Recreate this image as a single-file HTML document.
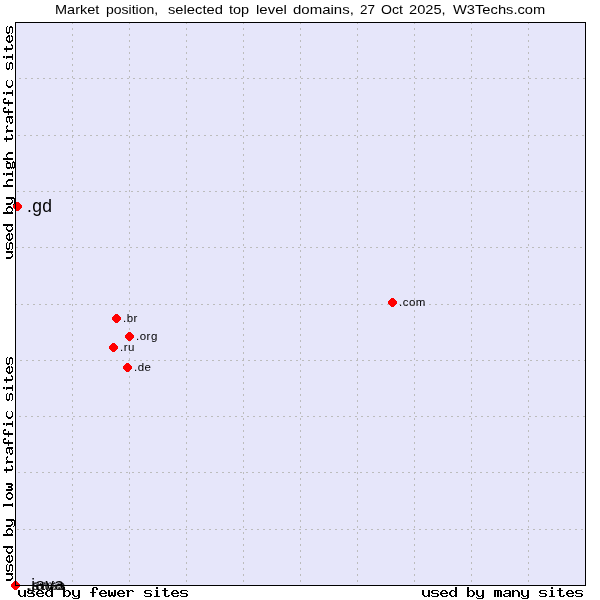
<!DOCTYPE html>
<html><head><meta charset="utf-8"><title>Market position</title>
<style>
html,body{margin:0;padding:0;background:#fff;}
.title,.lb{will-change:transform;}
body{width:600px;height:600px;position:relative;overflow:hidden;font-family:"Liberation Sans",sans-serif;color:#000;}
.title{position:absolute;top:2px;font-size:13px;line-height:15px;white-space:nowrap;color:#000;transform-origin:0 0;}
.lb{position:absolute;white-space:nowrap;color:#000;}
</style></head><body>
<svg width="600" height="600" viewBox="0 0 600 600" style="position:absolute;left:0;top:0" shape-rendering="crispEdges"><rect x="16" y="23" width="569" height="562" fill="#e6e6fa"/><line x1="72.5" y1="23" x2="72.5" y2="585" stroke="#bcbcbc" stroke-width="1" stroke-dasharray="2 4" stroke-dashoffset="1"/><line x1="129.5" y1="23" x2="129.5" y2="585" stroke="#bcbcbc" stroke-width="1" stroke-dasharray="2 4" stroke-dashoffset="1"/><line x1="186.5" y1="23" x2="186.5" y2="585" stroke="#bcbcbc" stroke-width="1" stroke-dasharray="2 4" stroke-dashoffset="1"/><line x1="243.5" y1="23" x2="243.5" y2="585" stroke="#bcbcbc" stroke-width="1" stroke-dasharray="2 4" stroke-dashoffset="1"/><line x1="300.5" y1="23" x2="300.5" y2="585" stroke="#bcbcbc" stroke-width="1" stroke-dasharray="2 4" stroke-dashoffset="1"/><line x1="357.5" y1="23" x2="357.5" y2="585" stroke="#bcbcbc" stroke-width="1" stroke-dasharray="2 4" stroke-dashoffset="1"/><line x1="414.5" y1="23" x2="414.5" y2="585" stroke="#bcbcbc" stroke-width="1" stroke-dasharray="2 4" stroke-dashoffset="1"/><line x1="471.5" y1="23" x2="471.5" y2="585" stroke="#bcbcbc" stroke-width="1" stroke-dasharray="2 4" stroke-dashoffset="1"/><line x1="528.5" y1="23" x2="528.5" y2="585" stroke="#bcbcbc" stroke-width="1" stroke-dasharray="2 4" stroke-dashoffset="1"/><line x1="16" y1="78.5" x2="585" y2="78.5" stroke="#bcbcbc" stroke-width="1" stroke-dasharray="2 4" stroke-dashoffset="3"/><line x1="16" y1="135.5" x2="585" y2="135.5" stroke="#bcbcbc" stroke-width="1" stroke-dasharray="2 4" stroke-dashoffset="4"/><line x1="16" y1="191.5" x2="585" y2="191.5" stroke="#bcbcbc" stroke-width="1" stroke-dasharray="2 4" stroke-dashoffset="5"/><line x1="16" y1="247.5" x2="585" y2="247.5" stroke="#bcbcbc" stroke-width="1" stroke-dasharray="2 4" stroke-dashoffset="0"/><line x1="16" y1="304.5" x2="585" y2="304.5" stroke="#bcbcbc" stroke-width="1" stroke-dasharray="2 4" stroke-dashoffset="1"/><line x1="16" y1="360.5" x2="585" y2="360.5" stroke="#bcbcbc" stroke-width="1" stroke-dasharray="2 4" stroke-dashoffset="2"/><line x1="16" y1="416.5" x2="585" y2="416.5" stroke="#bcbcbc" stroke-width="1" stroke-dasharray="2 4" stroke-dashoffset="3"/><line x1="16" y1="472.5" x2="585" y2="472.5" stroke="#bcbcbc" stroke-width="1" stroke-dasharray="2 4" stroke-dashoffset="4"/><line x1="16" y1="529.5" x2="585" y2="529.5" stroke="#bcbcbc" stroke-width="1" stroke-dasharray="2 4" stroke-dashoffset="5"/></svg>
<div class="title" style="left:54.88px;transform:scaleX(1.1154)">Market</div><div class="title" style="left:106.25px;transform:scaleX(1.0781)">position,</div><div class="title" style="left:168.3px;transform:scaleX(1.1333)">selected</div><div class="title" style="left:229.3px;transform:scaleX(1.1111)">top</div><div class="title" style="left:256.0px;transform:scaleX(1.1538)">level</div><div class="title" style="left:292.5px;transform:scaleX(1.1538)">domains,</div><div class="title" style="left:360.0px;transform:scaleX(1.0357)">27</div><div class="title" style="left:381.3px;transform:scaleX(1.085)">Oct</div><div class="title" style="left:409.0px;transform:scaleX(1.125)">2025,</div><div class="title" style="left:452.7px;transform:scaleX(1.1296)">W3Techs.com</div>
<svg width="600" height="600" viewBox="0 0 600 600" style="position:absolute;left:0;top:0" shape-rendering="crispEdges"><path fill="#ff0000" d="M16 202h3v1h-3zM15 203h5v1h-5zM14 204h7v1h-7zM13 205h9v1h-9zM13 206h9v1h-9zM13 207h9v1h-9zM14 208h7v1h-7zM15 209h5v1h-5zM16 210h3v1h-3z"/><path fill="#ff0000" d="M391 298h3v1h-3zM390 299h5v1h-5zM389 300h7v1h-7zM388 301h9v1h-9zM388 302h9v1h-9zM388 303h9v1h-9zM389 304h7v1h-7zM390 305h5v1h-5zM391 306h3v1h-3z"/><path fill="#ff0000" d="M115 314h3v1h-3zM114 315h5v1h-5zM113 316h7v1h-7zM112 317h9v1h-9zM112 318h9v1h-9zM112 319h9v1h-9zM113 320h7v1h-7zM114 321h5v1h-5zM115 322h3v1h-3z"/><path fill="#ff0000" d="M128 332h3v1h-3zM127 333h5v1h-5zM126 334h7v1h-7zM125 335h9v1h-9zM125 336h9v1h-9zM125 337h9v1h-9zM126 338h7v1h-7zM127 339h5v1h-5zM128 340h3v1h-3z"/><path fill="#ff0000" d="M112 343h3v1h-3zM111 344h5v1h-5zM110 345h7v1h-7zM109 346h9v1h-9zM109 347h9v1h-9zM109 348h9v1h-9zM110 349h7v1h-7zM111 350h5v1h-5zM112 351h3v1h-3z"/><path fill="#ff0000" d="M126 363h3v1h-3zM125 364h5v1h-5zM124 365h7v1h-7zM123 366h9v1h-9zM123 367h9v1h-9zM123 368h9v1h-9zM124 369h7v1h-7zM125 370h5v1h-5zM126 371h3v1h-3z"/><path fill="#ff0000" d="M14 581h3v1h-3zM13 582h5v1h-5zM12 583h7v1h-7zM11 584h9v1h-9zM11 585h9v1h-9zM11 586h9v1h-9zM12 587h7v1h-7zM13 588h5v1h-5zM14 589h3v1h-3z"/></svg>
<svg width="600" height="600" viewBox="0 0 600 600" style="position:absolute;left:0;top:0" shape-rendering="crispEdges"><rect x="15.5" y="22.5" width="570" height="563" fill="none" stroke="#000" stroke-width="1"/><path fill="#000" d="M51 587h2v1h-2zM63 587h2v1h-2zM93 587h4v1h-4zM156 587h2v1h-2zM51 588h2v1h-2zM63 588h2v1h-2zM92 588h2v1h-2zM96 588h2v1h-2zM156 588h2v1h-2zM164 588h2v1h-2zM51 589h2v1h-2zM63 589h2v1h-2zM92 589h2v1h-2zM96 589h2v1h-2zM164 589h2v1h-2zM18 590h2v1h-2zM24 590h2v1h-2zM28 590h6v1h-6zM38 590h4v1h-4zM47 590h3v1h-3zM51 590h2v1h-2zM63 590h2v1h-2zM66 590h3v1h-3zM72 590h2v1h-2zM78 590h2v1h-2zM92 590h2v1h-2zM101 590h4v1h-4zM108 590h2v1h-2zM114 590h2v1h-2zM119 590h4v1h-4zM126 590h3v1h-3zM130 590h3v1h-3zM145 590h6v1h-6zM155 590h3v1h-3zM162 590h6v1h-6zM173 590h4v1h-4zM181 590h6v1h-6zM18 591h2v1h-2zM24 591h2v1h-2zM27 591h2v1h-2zM34 591h1v1h-1zM37 591h2v1h-2zM41 591h2v1h-2zM46 591h2v1h-2zM50 591h3v1h-3zM63 591h3v1h-3zM68 591h2v1h-2zM72 591h2v1h-2zM78 591h2v1h-2zM92 591h2v1h-2zM100 591h2v1h-2zM104 591h2v1h-2zM108 591h2v1h-2zM114 591h2v1h-2zM118 591h2v1h-2zM122 591h2v1h-2zM127 591h3v1h-3zM132 591h2v1h-2zM144 591h2v1h-2zM151 591h1v1h-1zM156 591h2v1h-2zM164 591h2v1h-2zM172 591h2v1h-2zM176 591h2v1h-2zM180 591h2v1h-2zM187 591h1v1h-1zM18 592h2v1h-2zM24 592h2v1h-2zM27 592h2v1h-2zM36 592h2v1h-2zM42 592h2v1h-2zM45 592h2v1h-2zM51 592h2v1h-2zM63 592h2v1h-2zM69 592h2v1h-2zM72 592h2v1h-2zM78 592h2v1h-2zM90 592h6v1h-6zM99 592h2v1h-2zM105 592h2v1h-2zM108 592h2v1h-2zM111 592h2v1h-2zM114 592h2v1h-2zM117 592h2v1h-2zM123 592h2v1h-2zM127 592h2v1h-2zM144 592h2v1h-2zM156 592h2v1h-2zM164 592h2v1h-2zM171 592h2v1h-2zM177 592h2v1h-2zM180 592h2v1h-2zM18 593h2v1h-2zM24 593h2v1h-2zM28 593h6v1h-6zM36 593h8v1h-8zM45 593h2v1h-2zM51 593h2v1h-2zM63 593h2v1h-2zM69 593h2v1h-2zM72 593h2v1h-2zM78 593h2v1h-2zM92 593h2v1h-2zM99 593h8v1h-8zM108 593h2v1h-2zM111 593h2v1h-2zM114 593h2v1h-2zM117 593h8v1h-8zM127 593h2v1h-2zM145 593h6v1h-6zM156 593h2v1h-2zM164 593h2v1h-2zM171 593h8v1h-8zM181 593h6v1h-6zM18 594h2v1h-2zM24 594h2v1h-2zM33 594h2v1h-2zM36 594h2v1h-2zM45 594h2v1h-2zM51 594h2v1h-2zM63 594h2v1h-2zM69 594h2v1h-2zM72 594h2v1h-2zM78 594h2v1h-2zM92 594h2v1h-2zM99 594h2v1h-2zM108 594h2v1h-2zM111 594h2v1h-2zM114 594h2v1h-2zM117 594h2v1h-2zM127 594h2v1h-2zM150 594h2v1h-2zM156 594h2v1h-2zM164 594h2v1h-2zM171 594h2v1h-2zM186 594h2v1h-2zM19 595h2v1h-2zM23 595h3v1h-3zM27 595h1v1h-1zM33 595h2v1h-2zM37 595h2v1h-2zM42 595h2v1h-2zM46 595h2v1h-2zM50 595h3v1h-3zM63 595h3v1h-3zM68 595h2v1h-2zM73 595h2v1h-2zM77 595h3v1h-3zM92 595h2v1h-2zM100 595h2v1h-2zM105 595h2v1h-2zM108 595h8v1h-8zM118 595h2v1h-2zM123 595h2v1h-2zM127 595h2v1h-2zM144 595h1v1h-1zM150 595h2v1h-2zM156 595h2v1h-2zM164 595h2v1h-2zM168 595h2v1h-2zM172 595h2v1h-2zM177 595h2v1h-2zM180 595h1v1h-1zM186 595h2v1h-2zM20 596h3v1h-3zM24 596h2v1h-2zM28 596h6v1h-6zM38 596h5v1h-5zM47 596h3v1h-3zM51 596h2v1h-2zM63 596h2v1h-2zM66 596h3v1h-3zM74 596h3v1h-3zM78 596h2v1h-2zM92 596h2v1h-2zM101 596h5v1h-5zM109 596h2v1h-2zM113 596h2v1h-2zM119 596h5v1h-5zM127 596h2v1h-2zM145 596h6v1h-6zM154 596h6v1h-6zM165 596h4v1h-4zM173 596h5v1h-5zM181 596h6v1h-6zM72 597h1v1h-1zM78 597h2v1h-2zM73 598h6v1h-6z"/><path fill="#000" d="M455 587h2v1h-2zM467 587h2v1h-2zM551 587h2v1h-2zM455 588h2v1h-2zM467 588h2v1h-2zM551 588h2v1h-2zM559 588h2v1h-2zM455 589h2v1h-2zM467 589h2v1h-2zM559 589h2v1h-2zM422 590h2v1h-2zM428 590h2v1h-2zM432 590h6v1h-6zM442 590h4v1h-4zM451 590h3v1h-3zM455 590h2v1h-2zM467 590h2v1h-2zM470 590h3v1h-3zM476 590h2v1h-2zM482 590h2v1h-2zM494 590h7v1h-7zM505 590h5v1h-5zM512 590h2v1h-2zM515 590h3v1h-3zM521 590h2v1h-2zM527 590h2v1h-2zM540 590h6v1h-6zM550 590h3v1h-3zM557 590h6v1h-6zM568 590h4v1h-4zM576 590h6v1h-6zM422 591h2v1h-2zM428 591h2v1h-2zM431 591h2v1h-2zM438 591h1v1h-1zM441 591h2v1h-2zM445 591h2v1h-2zM450 591h2v1h-2zM454 591h3v1h-3zM467 591h3v1h-3zM472 591h2v1h-2zM476 591h2v1h-2zM482 591h2v1h-2zM494 591h2v1h-2zM497 591h2v1h-2zM500 591h2v1h-2zM504 591h2v1h-2zM509 591h2v1h-2zM512 591h3v1h-3zM517 591h2v1h-2zM521 591h2v1h-2zM527 591h2v1h-2zM539 591h2v1h-2zM546 591h1v1h-1zM551 591h2v1h-2zM559 591h2v1h-2zM567 591h2v1h-2zM571 591h2v1h-2zM575 591h2v1h-2zM582 591h1v1h-1zM422 592h2v1h-2zM428 592h2v1h-2zM431 592h2v1h-2zM440 592h2v1h-2zM446 592h2v1h-2zM449 592h2v1h-2zM455 592h2v1h-2zM467 592h2v1h-2zM473 592h2v1h-2zM476 592h2v1h-2zM482 592h2v1h-2zM494 592h2v1h-2zM497 592h2v1h-2zM500 592h2v1h-2zM509 592h2v1h-2zM512 592h2v1h-2zM518 592h2v1h-2zM521 592h2v1h-2zM527 592h2v1h-2zM539 592h2v1h-2zM551 592h2v1h-2zM559 592h2v1h-2zM566 592h2v1h-2zM572 592h2v1h-2zM575 592h2v1h-2zM422 593h2v1h-2zM428 593h2v1h-2zM432 593h6v1h-6zM440 593h8v1h-8zM449 593h2v1h-2zM455 593h2v1h-2zM467 593h2v1h-2zM473 593h2v1h-2zM476 593h2v1h-2zM482 593h2v1h-2zM494 593h2v1h-2zM497 593h2v1h-2zM500 593h2v1h-2zM505 593h6v1h-6zM512 593h2v1h-2zM518 593h2v1h-2zM521 593h2v1h-2zM527 593h2v1h-2zM540 593h6v1h-6zM551 593h2v1h-2zM559 593h2v1h-2zM566 593h8v1h-8zM576 593h6v1h-6zM422 594h2v1h-2zM428 594h2v1h-2zM437 594h2v1h-2zM440 594h2v1h-2zM449 594h2v1h-2zM455 594h2v1h-2zM467 594h2v1h-2zM473 594h2v1h-2zM476 594h2v1h-2zM482 594h2v1h-2zM494 594h2v1h-2zM497 594h2v1h-2zM500 594h2v1h-2zM503 594h2v1h-2zM509 594h2v1h-2zM512 594h2v1h-2zM518 594h2v1h-2zM521 594h2v1h-2zM527 594h2v1h-2zM545 594h2v1h-2zM551 594h2v1h-2zM559 594h2v1h-2zM566 594h2v1h-2zM581 594h2v1h-2zM423 595h2v1h-2zM427 595h3v1h-3zM431 595h1v1h-1zM437 595h2v1h-2zM441 595h2v1h-2zM446 595h2v1h-2zM450 595h2v1h-2zM454 595h3v1h-3zM467 595h3v1h-3zM472 595h2v1h-2zM477 595h2v1h-2zM481 595h3v1h-3zM494 595h2v1h-2zM497 595h2v1h-2zM500 595h2v1h-2zM503 595h2v1h-2zM508 595h3v1h-3zM512 595h2v1h-2zM518 595h2v1h-2zM522 595h2v1h-2zM526 595h3v1h-3zM539 595h1v1h-1zM545 595h2v1h-2zM551 595h2v1h-2zM559 595h2v1h-2zM563 595h2v1h-2zM567 595h2v1h-2zM572 595h2v1h-2zM575 595h1v1h-1zM581 595h2v1h-2zM424 596h3v1h-3zM428 596h2v1h-2zM432 596h6v1h-6zM442 596h5v1h-5zM451 596h3v1h-3zM455 596h2v1h-2zM467 596h2v1h-2zM470 596h3v1h-3zM478 596h3v1h-3zM482 596h2v1h-2zM494 596h2v1h-2zM497 596h2v1h-2zM500 596h2v1h-2zM504 596h4v1h-4zM509 596h2v1h-2zM512 596h2v1h-2zM518 596h2v1h-2zM523 596h3v1h-3zM527 596h2v1h-2zM540 596h6v1h-6zM549 596h6v1h-6zM560 596h4v1h-4zM568 596h5v1h-5zM576 596h6v1h-6zM476 597h1v1h-1zM482 597h2v1h-2zM521 597h1v1h-1zM527 597h2v1h-2zM477 598h6v1h-6zM522 598h6v1h-6z"/><path fill="#000" d="M3 387v2h1v-2zM3 423v2h1v-2zM3 430v4h1v-4zM3 439v4h1v-4zM3 504v3h1v-3zM3 534v2h1v-2zM3 546v2h1v-2zM4 379v2h1v-2zM4 387v2h1v-2zM4 423v2h1v-2zM4 429v2h1v-2zM4 433v2h1v-2zM4 438v2h1v-2zM4 442v2h1v-2zM4 469v2h1v-2zM4 504v2h1v-2zM4 534v2h1v-2zM4 546v2h1v-2zM5 379v2h1v-2zM5 429v2h1v-2zM5 433v2h1v-2zM5 438v2h1v-2zM5 442v2h1v-2zM5 469v2h1v-2zM5 504v2h1v-2zM5 534v2h1v-2zM5 546v2h1v-2zM6 358v6h1v-6zM6 368v4h1v-4zM6 377v6h1v-6zM6 387v3h1v-3zM6 394v6h1v-6zM6 412v5h1v-5zM6 423v3h1v-3zM6 433v2h1v-2zM6 442v2h1v-2zM6 448v5h1v-5zM6 457v3h1v-3zM6 461v3h1v-3zM6 467v6h1v-6zM6 483v2h1v-2zM6 489v2h1v-2zM6 494v4h1v-4zM6 504v2h1v-2zM6 519v2h1v-2zM6 525v2h1v-2zM6 530v3h1v-3zM6 534v2h1v-2zM6 546v2h1v-2zM6 549v3h1v-3zM6 557v4h1v-4zM6 565v6h1v-6zM6 573v2h1v-2zM6 579v2h1v-2zM7 357v1h1v-1zM7 363v2h1v-2zM7 367v2h1v-2zM7 371v2h1v-2zM7 379v2h1v-2zM7 387v2h1v-2zM7 393v1h1v-1zM7 399v2h1v-2zM7 411v1h1v-1zM7 416v2h1v-2zM7 423v2h1v-2zM7 433v2h1v-2zM7 442v2h1v-2zM7 447v2h1v-2zM7 452v2h1v-2zM7 456v2h1v-2zM7 460v3h1v-3zM7 469v2h1v-2zM7 483v2h1v-2zM7 489v2h1v-2zM7 493v2h1v-2zM7 497v2h1v-2zM7 504v2h1v-2zM7 519v2h1v-2zM7 525v2h1v-2zM7 529v2h1v-2zM7 533v3h1v-3zM7 546v3h1v-3zM7 551v2h1v-2zM7 556v2h1v-2zM7 560v2h1v-2zM7 564v1h1v-1zM7 570v2h1v-2zM7 573v2h1v-2zM7 579v2h1v-2zM8 363v2h1v-2zM8 366v2h1v-2zM8 372v2h1v-2zM8 379v2h1v-2zM8 387v2h1v-2zM8 399v2h1v-2zM8 417v2h1v-2zM8 423v2h1v-2zM8 431v6h1v-6zM8 440v6h1v-6zM8 447v2h1v-2zM8 461v2h1v-2zM8 469v2h1v-2zM8 483v2h1v-2zM8 486v2h1v-2zM8 489v2h1v-2zM8 492v2h1v-2zM8 498v2h1v-2zM8 504v2h1v-2zM8 519v2h1v-2zM8 525v2h1v-2zM8 528v2h1v-2zM8 534v2h1v-2zM8 546v2h1v-2zM8 552v2h1v-2zM8 555v2h1v-2zM8 561v2h1v-2zM8 570v2h1v-2zM8 573v2h1v-2zM8 579v2h1v-2zM9 358v6h1v-6zM9 366v8h1v-8zM9 379v2h1v-2zM9 387v2h1v-2zM9 394v6h1v-6zM9 417v2h1v-2zM9 423v2h1v-2zM9 433v2h1v-2zM9 442v2h1v-2zM9 447v6h1v-6zM9 461v2h1v-2zM9 469v2h1v-2zM9 483v2h1v-2zM9 486v2h1v-2zM9 489v2h1v-2zM9 492v2h1v-2zM9 498v2h1v-2zM9 504v2h1v-2zM9 519v2h1v-2zM9 525v2h1v-2zM9 528v2h1v-2zM9 534v2h1v-2zM9 546v2h1v-2zM9 552v2h1v-2zM9 555v8h1v-8zM9 565v6h1v-6zM9 573v2h1v-2zM9 579v2h1v-2zM10 357v2h1v-2zM10 372v2h1v-2zM10 379v2h1v-2zM10 387v2h1v-2zM10 393v2h1v-2zM10 417v2h1v-2zM10 423v2h1v-2zM10 433v2h1v-2zM10 442v2h1v-2zM10 447v2h1v-2zM10 453v2h1v-2zM10 461v2h1v-2zM10 469v2h1v-2zM10 483v2h1v-2zM10 486v2h1v-2zM10 489v2h1v-2zM10 492v2h1v-2zM10 498v2h1v-2zM10 504v2h1v-2zM10 519v2h1v-2zM10 525v2h1v-2zM10 528v2h1v-2zM10 534v2h1v-2zM10 546v2h1v-2zM10 552v2h1v-2zM10 561v2h1v-2zM10 564v2h1v-2zM10 573v2h1v-2zM10 579v2h1v-2zM11 357v2h1v-2zM11 364v1h1v-1zM11 366v2h1v-2zM11 371v2h1v-2zM11 375v2h1v-2zM11 379v2h1v-2zM11 387v2h1v-2zM11 393v2h1v-2zM11 400v1h1v-1zM11 411v1h1v-1zM11 416v2h1v-2zM11 423v2h1v-2zM11 433v2h1v-2zM11 442v2h1v-2zM11 447v3h1v-3zM11 453v2h1v-2zM11 461v2h1v-2zM11 465v2h1v-2zM11 469v2h1v-2zM11 483v8h1v-8zM11 493v2h1v-2zM11 497v2h1v-2zM11 504v2h1v-2zM11 519v3h1v-3zM11 524v2h1v-2zM11 529v2h1v-2zM11 533v3h1v-3zM11 546v3h1v-3zM11 551v2h1v-2zM11 555v2h1v-2zM11 560v2h1v-2zM11 564v2h1v-2zM11 571v1h1v-1zM11 573v3h1v-3zM11 578v2h1v-2zM12 358v6h1v-6zM12 367v5h1v-5zM12 376v4h1v-4zM12 385v6h1v-6zM12 394v6h1v-6zM12 412v5h1v-5zM12 421v6h1v-6zM12 433v2h1v-2zM12 442v2h1v-2zM12 447v2h1v-2zM12 450v4h1v-4zM12 461v2h1v-2zM12 466v4h1v-4zM12 484v2h1v-2zM12 488v2h1v-2zM12 494v4h1v-4zM12 503v4h1v-4zM12 519v2h1v-2zM12 522v3h1v-3zM12 530v3h1v-3zM12 534v2h1v-2zM12 546v2h1v-2zM12 549v3h1v-3zM12 556v5h1v-5zM12 565v6h1v-6zM12 573v2h1v-2zM12 576v3h1v-3zM13 519v2h1v-2zM13 526v1h1v-1zM14 520v6h1v-6z"/><path fill="#000" d="M3 56v2h1v-2zM3 92v2h1v-2zM3 99v4h1v-4zM3 108v4h1v-4zM3 158v2h1v-2zM3 173v2h1v-2zM3 185v2h1v-2zM3 212v2h1v-2zM3 224v2h1v-2zM4 48v2h1v-2zM4 56v2h1v-2zM4 92v2h1v-2zM4 98v2h1v-2zM4 102v2h1v-2zM4 107v2h1v-2zM4 111v2h1v-2zM4 138v2h1v-2zM4 158v2h1v-2zM4 173v2h1v-2zM4 185v2h1v-2zM4 212v2h1v-2zM4 224v2h1v-2zM5 48v2h1v-2zM5 98v2h1v-2zM5 102v2h1v-2zM5 107v2h1v-2zM5 111v2h1v-2zM5 138v2h1v-2zM5 158v2h1v-2zM5 185v2h1v-2zM5 212v2h1v-2zM5 224v2h1v-2zM6 27v6h1v-6zM6 37v4h1v-4zM6 46v6h1v-6zM6 56v3h1v-3zM6 63v6h1v-6zM6 81v5h1v-5zM6 92v3h1v-3zM6 102v2h1v-2zM6 111v2h1v-2zM6 117v5h1v-5zM6 126v3h1v-3zM6 130v3h1v-3zM6 136v6h1v-6zM6 154v3h1v-3zM6 158v2h1v-2zM6 161v1h1v-1zM6 163v5h1v-5zM6 173v3h1v-3zM6 181v3h1v-3zM6 185v2h1v-2zM6 197v2h1v-2zM6 203v2h1v-2zM6 208v3h1v-3zM6 212v2h1v-2zM6 224v2h1v-2zM6 227v3h1v-3zM6 235v4h1v-4zM6 243v6h1v-6zM6 251v2h1v-2zM6 257v2h1v-2zM7 26v1h1v-1zM7 32v2h1v-2zM7 36v2h1v-2zM7 40v2h1v-2zM7 48v2h1v-2zM7 56v2h1v-2zM7 62v1h1v-1zM7 68v2h1v-2zM7 80v1h1v-1zM7 85v2h1v-2zM7 92v2h1v-2zM7 102v2h1v-2zM7 111v2h1v-2zM7 116v2h1v-2zM7 121v2h1v-2zM7 125v2h1v-2zM7 129v3h1v-3zM7 138v2h1v-2zM7 153v2h1v-2zM7 157v3h1v-3zM7 161v3h1v-3zM7 167v2h1v-2zM7 173v2h1v-2zM7 180v2h1v-2zM7 184v3h1v-3zM7 197v2h1v-2zM7 203v2h1v-2zM7 207v2h1v-2zM7 211v3h1v-3zM7 224v3h1v-3zM7 229v2h1v-2zM7 234v2h1v-2zM7 238v2h1v-2zM7 242v1h1v-1zM7 248v2h1v-2zM7 251v2h1v-2zM7 257v2h1v-2zM8 32v2h1v-2zM8 35v2h1v-2zM8 41v2h1v-2zM8 48v2h1v-2zM8 56v2h1v-2zM8 68v2h1v-2zM8 86v2h1v-2zM8 92v2h1v-2zM8 100v6h1v-6zM8 109v6h1v-6zM8 116v2h1v-2zM8 130v2h1v-2zM8 138v2h1v-2zM8 152v2h1v-2zM8 158v2h1v-2zM8 162v2h1v-2zM8 167v2h1v-2zM8 173v2h1v-2zM8 179v2h1v-2zM8 185v2h1v-2zM8 197v2h1v-2zM8 203v2h1v-2zM8 206v2h1v-2zM8 212v2h1v-2zM8 224v2h1v-2zM8 230v2h1v-2zM8 233v2h1v-2zM8 239v2h1v-2zM8 248v2h1v-2zM8 251v2h1v-2zM8 257v2h1v-2zM9 27v6h1v-6zM9 35v8h1v-8zM9 48v2h1v-2zM9 56v2h1v-2zM9 63v6h1v-6zM9 86v2h1v-2zM9 92v2h1v-2zM9 102v2h1v-2zM9 111v2h1v-2zM9 116v6h1v-6zM9 130v2h1v-2zM9 138v2h1v-2zM9 152v2h1v-2zM9 158v2h1v-2zM9 162v2h1v-2zM9 167v2h1v-2zM9 173v2h1v-2zM9 179v2h1v-2zM9 185v2h1v-2zM9 197v2h1v-2zM9 203v2h1v-2zM9 206v2h1v-2zM9 212v2h1v-2zM9 224v2h1v-2zM9 230v2h1v-2zM9 233v8h1v-8zM9 243v6h1v-6zM9 251v2h1v-2zM9 257v2h1v-2zM10 26v2h1v-2zM10 41v2h1v-2zM10 48v2h1v-2zM10 56v2h1v-2zM10 62v2h1v-2zM10 86v2h1v-2zM10 92v2h1v-2zM10 102v2h1v-2zM10 111v2h1v-2zM10 116v2h1v-2zM10 122v2h1v-2zM10 130v2h1v-2zM10 138v2h1v-2zM10 152v2h1v-2zM10 158v2h1v-2zM10 163v5h1v-5zM10 173v2h1v-2zM10 179v2h1v-2zM10 185v2h1v-2zM10 197v2h1v-2zM10 203v2h1v-2zM10 206v2h1v-2zM10 212v2h1v-2zM10 224v2h1v-2zM10 230v2h1v-2zM10 239v2h1v-2zM10 242v2h1v-2zM10 251v2h1v-2zM10 257v2h1v-2zM11 26v2h1v-2zM11 33v1h1v-1zM11 35v2h1v-2zM11 40v2h1v-2zM11 44v2h1v-2zM11 48v2h1v-2zM11 56v2h1v-2zM11 62v2h1v-2zM11 69v1h1v-1zM11 80v1h1v-1zM11 85v2h1v-2zM11 92v2h1v-2zM11 102v2h1v-2zM11 111v2h1v-2zM11 116v3h1v-3zM11 122v2h1v-2zM11 130v2h1v-2zM11 134v2h1v-2zM11 138v2h1v-2zM11 152v2h1v-2zM11 158v2h1v-2zM11 167v2h1v-2zM11 173v2h1v-2zM11 179v2h1v-2zM11 185v2h1v-2zM11 197v3h1v-3zM11 202v2h1v-2zM11 207v2h1v-2zM11 211v3h1v-3zM11 224v3h1v-3zM11 229v2h1v-2zM11 233v2h1v-2zM11 238v2h1v-2zM11 242v2h1v-2zM11 249v1h1v-1zM11 251v3h1v-3zM11 256v2h1v-2zM12 27v6h1v-6zM12 36v5h1v-5zM12 45v4h1v-4zM12 54v6h1v-6zM12 63v6h1v-6zM12 81v5h1v-5zM12 90v6h1v-6zM12 102v2h1v-2zM12 111v2h1v-2zM12 116v2h1v-2zM12 119v4h1v-4zM12 130v2h1v-2zM12 135v4h1v-4zM12 152v2h1v-2zM12 158v2h1v-2zM12 162v6h1v-6zM12 171v6h1v-6zM12 179v2h1v-2zM12 185v2h1v-2zM12 197v2h1v-2zM12 200v3h1v-3zM12 208v3h1v-3zM12 212v2h1v-2zM12 224v2h1v-2zM12 227v3h1v-3zM12 234v5h1v-5zM12 243v6h1v-6zM12 251v2h1v-2zM12 254v3h1v-3zM13 161v2h1v-2zM13 167v2h1v-2zM13 197v2h1v-2zM13 204v1h1v-1zM14 162v6h1v-6zM14 198v6h1v-6z"/></svg>
<div class="lb" style="left:26.8px;top:198.19px;font-size:17.5px;line-height:17.5px;letter-spacing:0.3px;">.gd</div><div class="lb" style="left:399.0px;top:296.77px;font-size:11.5px;line-height:11.5px;letter-spacing:0.5px;">.com</div><div class="lb" style="left:123.0px;top:312.77px;font-size:11.5px;line-height:11.5px;letter-spacing:0.5px;">.br</div><div class="lb" style="left:136.0px;top:330.77px;font-size:11.5px;line-height:11.5px;letter-spacing:0.5px;">.org</div><div class="lb" style="left:120.0px;top:341.77px;font-size:11.5px;line-height:11.5px;letter-spacing:0.5px;">.ru</div><div class="lb" style="left:134.0px;top:361.77px;font-size:11.5px;line-height:11.5px;letter-spacing:0.5px;">.de</div>
<div class="lb" style="left:26.3px;top:576.11px;font-size:17px;line-height:17px;letter-spacing:0.5px;">.java</div><div class="lb" style="left:27.0px;top:579.07px;font-size:13.5px;line-height:13.5px;letter-spacing:0.8px;opacity:.8">.awsa</div><div class="lb" style="left:27.5px;top:578.23px;font-size:14.5px;line-height:14.5px;letter-spacing:0.5px;opacity:.6">.saxo</div>
</body></html>
